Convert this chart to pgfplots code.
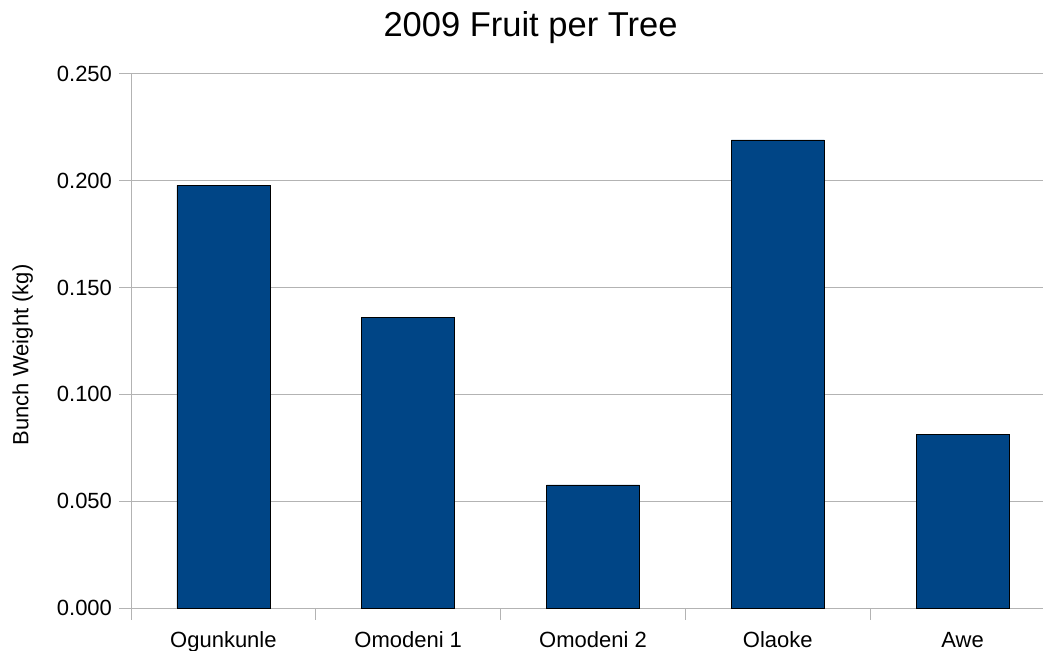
\documentclass[border=0pt]{standalone}
\usepackage{fontspec}
\setmainfont{Liberation Sans}
\usepackage{pgfplots}
\pgfplotsset{compat=1.18}
\definecolor{barblue}{HTML}{004586}
\definecolor{gridgray}{HTML}{B3B3B3}

\begin{document}
\begin{tikzpicture}
\begin{axis}[
  at={(131pt,42pt)}, anchor=south west,
  width=924pt, height=534pt, scale only axis,
  xmin=-0.5, xmax=4.5,
  ymin=0, ymax=0.25,
  axis x line*=bottom, axis y line*=left,
  axis line style={gridgray, line width=1pt},
  tick align=outside,
  major tick length=11.5pt,
  tick style={gridgray, line width=1pt},
  ymajorgrids,
  grid style={gridgray, line width=1pt},
  xtick={-0.5,0.5,1.5,2.5,3.5,4.5},
  x tick label as interval,
  xticklabels={Ogunkunle,Omodeni 1,Omodeni 2,Olaoke,Awe},
  xticklabel style={anchor=base, yshift=-27.5pt, font=\fontsize{22}{26}\selectfont},
  ytick={0,0.05,0.1,0.15,0.2,0.25},
  yticklabels={0.000,0.050,0.100,0.150,0.200,0.250},
  yticklabel style={font=\fontsize{22}{26}\selectfont, xshift=-4pt},
  ylabel={Bunch Weight (kg)},
  ylabel style={at={(axis description cs:-0.106,0.474)}, anchor=south, inner sep=0pt,
    font=\fontsize{22}{26}\selectfont},
  title={2009 Fruit per Tree},
  title style={at={(axis description cs:0.4324,1.0599)}, anchor=base,
    font=\fontsize{34.5}{40}\selectfont},
  ybar, bar width=93pt,
  clip=false,
]
\addplot[fill=barblue, draw=black, line width=0.8pt] coordinates {
  (0,0.1978) (1,0.1362) (2,0.0576) (3,0.2191) (4,0.0814)
};
\end{axis}
\pgfresetboundingbox
\useasboundingbox (0,0) rectangle (1043pt,650pt);
\end{tikzpicture}
\end{document}
